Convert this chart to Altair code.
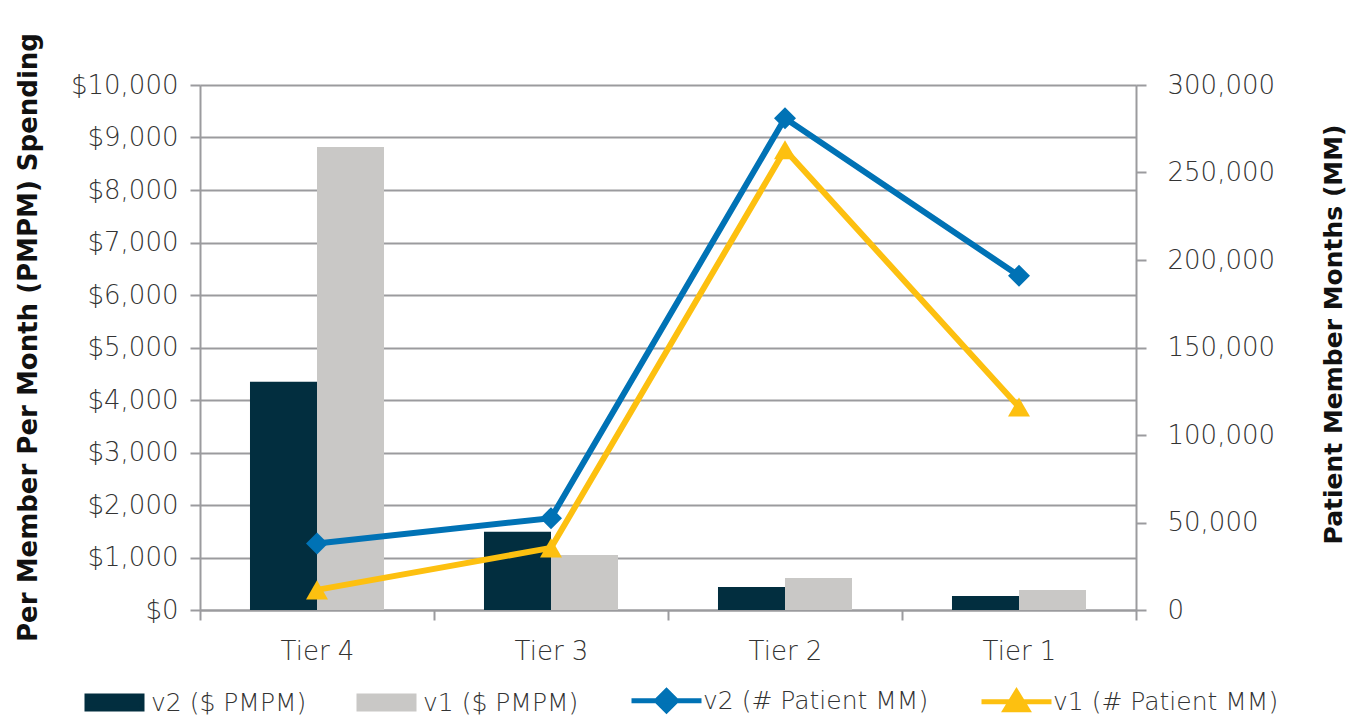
import altair as alt
import pandas as pd

tiers = ["Tier 4", "Tier 3", "Tier 2", "Tier 1"]
pmpm_v2 = [4350, 1490, 440, 265]
pmpm_v1 = [8820, 1050, 610, 380]
mm_v2 = [38000, 52500, 281000, 191000]
mm_v1 = [11500, 35500, 263000, 116000]

series_names = ["v2 ($ PMPM)", "v1 ($ PMPM)", "v2 (# Patient MM)", "v1 (# Patient MM)"]
series_colors = ["#022E3F", "#C9C8C6", "#0072B5", "#FDC010"]

FONT = "DejaVu Sans"
TXT = "#333333"
AX = "#9B9B9E"
LBL = 26

bars = pd.DataFrame({
    "tier": tiers * 2,
    "series": [series_names[0]] * 4 + [series_names[1]] * 4,
    "value": pmpm_v2 + pmpm_v1,
})
lines = pd.DataFrame({
    "tier": tiers * 2,
    "series": [series_names[2]] * 4 + [series_names[3]] * 4,
    "value": mm_v2 + mm_v1,
})
# legend-only helper rows, placed below the scale domain and clipped away
legend_df = pd.DataFrame({"tier": tiers, "series": series_names, "value": [-100000] * 4})

xenc = alt.X("tier:N", sort=tiers, title=None,
             scale=alt.Scale(paddingInner=0, paddingOuter=0),
             axis=alt.Axis(labelAngle=0, labelFontSize=LBL, labelColor=TXT, labelFont=FONT,
                           labelFontWeight=200, labelPadding=18, tickBand="extent",
                           tickSize=10, tickColor=AX, tickWidth=2, domainColor=AX,
                           domainWidth=2, grid=False))

left_y = alt.Y("value:Q", title="Per Member Per Month (PMPM) Spending",
               scale=alt.Scale(domain=[0, 10000], nice=False),
               axis=alt.Axis(format="$,.0f", values=list(range(0, 10001, 1000)), labelOverlap=False,
                             labelFontSize=LBL, labelColor=TXT, labelFont=FONT, labelFontWeight=200,
                             labelPadding=12, tickSize=10, tickColor=AX, tickWidth=2,
                             domainColor=AX, domainWidth=2, grid=True, gridColor=AX, gridWidth=2,
                             titleFont=FONT, titleFontSize=26, titleFontWeight="bold",
                             titleColor="#111111", titleX=-172, titleY=252,
                             titleAngle=270, titleAlign="center", titleBaseline="middle"))

bar_layer = alt.Chart(bars).mark_bar().encode(
    x=xenc,
    xOffset=alt.XOffset("series:N", sort=series_names[:2],
                        scale=alt.Scale(paddingInner=0, paddingOuter=0.746)),
    y=left_y,
    color=alt.Color("series:N", scale=alt.Scale(domain=series_names[:2], range=series_colors[:2]),
                    legend=None),
)

right_y = alt.Y("value:Q", title="Patient Member Months (MM)",
                scale=alt.Scale(domain=[0, 300000], nice=False),
                axis=alt.Axis(orient="right", format=",.0f", values=list(range(0, 300001, 50000)),
                              labelOverlap=False,
                              labelFontSize=LBL, labelColor=TXT, labelFont=FONT, labelFontWeight=200,
                              labelPadding=21, tickSize=10, tickColor=AX, tickWidth=2,
                              domainColor=AX, domainWidth=2, grid=False,
                              titleFont=FONT, titleFontSize=25, titleFontWeight="bold",
                              titleColor="#111111", titleX=197, titleY=249,
                              titleAngle=270, titleAlign="center", titleBaseline="middle"))

line_v2 = alt.Chart(lines).transform_filter(alt.datum.series == series_names[2]).mark_line(
    color=series_colors[2], strokeWidth=6,
    point=alt.OverlayMarkDef(shape="diamond", size=484, filled=True, color=series_colors[2], opacity=1),
).encode(x=alt.X("tier:N", sort=tiers), y=right_y)

line_v1 = alt.Chart(lines).transform_filter(alt.datum.series == series_names[3]).mark_line(
    color=series_colors[3], strokeWidth=6,
    point=alt.OverlayMarkDef(shape="triangle-up", size=484, filled=True, color=series_colors[3], opacity=1),
).encode(x=alt.X("tier:N", sort=tiers), y=right_y)

# legend symbol paths (unit = 20px with symbolSize 1600)
rect_path = "M-1.375,-0.325H1.375V0.325H-1.375Z"
diamond_path = "M-1.75,0H1.75M0,-0.5L0.5,0L0,0.5L-0.5,0Z"
tri_path = "M-1.75,0H1.75M0,-0.5L0.55,0.4L-0.55,0.4Z"

legend_layer = alt.Chart(legend_df).mark_point(filled=True, clip=True, opacity=1).encode(
    x=alt.X("tier:N", sort=tiers),
    y=right_y,
    fill=alt.Fill("series:N", sort=series_names,
                  scale=alt.Scale(domain=series_names, range=series_colors),
                  legend=alt.Legend(title=None, orient="none", legendX=-108, legendY=593,
                                    direction="horizontal", columns=4, columnPadding=42,
                                    symbolSize=1600, symbolStrokeWidth=5, symbolOpacity=1,
                                    labelFontSize=25, labelFont=FONT, labelFontWeight=200,
                                    labelColor=TXT, labelOffset=14, labelLimit=400)),
    stroke=alt.Stroke("series:N", sort=series_names,
                      scale=alt.Scale(domain=series_names, range=series_colors)),
    shape=alt.Shape("series:N", sort=series_names,
                    scale=alt.Scale(domain=series_names, range=[rect_path, rect_path, diamond_path, tri_path])),
)

right_layer = alt.layer(line_v2, line_v1, legend_layer)

chart = alt.layer(bar_layer, right_layer).resolve_scale(y="independent").properties(
    width=936, height=525,
    autosize=alt.AutoSizeParams(type="none"),
    padding={"left": 192, "top": 77, "right": 211, "bottom": 109},
).configure_view(stroke=None).configure(background="white")

chart.save("out.html", embed_options={"renderer": "svg", "actions": False})
